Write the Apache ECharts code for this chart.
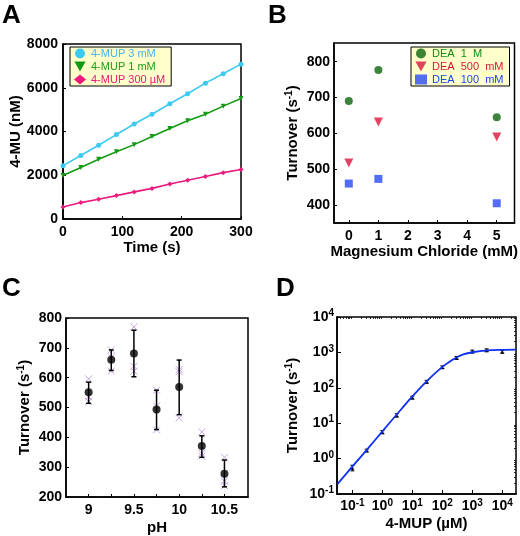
<!DOCTYPE html>
<html><head><meta charset="utf-8">
<script src="https://cdn.jsdelivr.net/npm/echarts@6/dist/echarts.min.js"></script>
<style>html,body{margin:0;padding:0;background:#fff}#c{width:520px;height:536px}</style>
</head><body><div id="c"></div>
<script>
// ---------- Panel A ----------
const timeS = [0, 30, 60, 90, 120, 150, 180, 210, 240, 270, 300];
const mup3mM = [2440, 2900, 3370, 3860, 4340, 4790, 5270, 5725, 6210, 6640, 7080];
const mup1mM = [1985, 2350, 2730, 3070, 3400, 3770, 4140, 4490, 4790, 5160, 5510];
const mup300uM = [550, 750, 900, 1070, 1240, 1400, 1600, 1770, 1940, 2120, 2260];
// ---------- Panel B ----------
const mgCl = [0, 1, 5];
const dea1M = [690, 777, 645];
const dea500mM = [517, 632, 590];
const dea100mM = [460, 473, 405];
const mgTicks = [0, 1, 2, 3, 4, 5];
const turnTicksB = [400, 500, 600, 700, 800];
// ---------- Panel C ----------
const pH = [9, 9.25, 9.5, 9.75, 10, 10.25, 10.5];
const meanC = [551, 660, 681, 493, 569, 371, 278];
const loC = [514, 624, 603, 426, 476, 333, 234];
const hiC = [585, 693, 759, 558, 659, 405, 324];
const repC = [[596, 536, 520], [693, 668, 622], [770, 638, 622], [558, 505, 425], [627, 620, 465], [418, 346, 337], [333, 253, 238]];
const pHTicks = [9, 9.25, 9.5, 9.75, 10, 10.25, 10.5];
const pHLabels = [9, 9.5, 10, 10.5];
// ---------- Panel D ----------
const mupConc = [0.1, 0.3, 1, 3, 10, 30, 100, 300, 1000, 3000, 10000];
const turnD = [0.54, 1.7, 5.6, 16.5, 53, 148, 380, 700, 1055, 1150, 1040];
const loD = [0.45, 1.55, 5.0, 15, 48, 135, 350, 640, 960, 1050, 950];
const hiD = [0.65, 1.85, 6.2, 18.5, 58, 162, 415, 770, 1160, 1260, 1140];
const fitX = [0.0316, 0.1, 0.316, 1, 3.16, 10, 31.6, 100, 200, 316, 500, 1000, 3162, 10000, 28700];
const fitY = [0.19, 0.6, 1.85, 5.9, 18.5, 57, 160, 390, 590, 740, 880, 1010, 1140, 1180, 1195];
const decades = [0.1, 1, 10, 100, 1000, 10000];
const decadeExp = ['-1', '0', '1', '2', '3', '4'];

const FONT = 'Liberation Sans, Arial, sans-serif';
const chart = echarts.init(document.getElementById('c'), null, {renderer: 'canvas'});

const minorX = [], minorY = [];
[0.01, 0.1, 1, 10, 100, 1000, 10000].forEach(d => {
  for (let k = 2; k <= 9; k++) { minorX.push(d * k); minorY.push(d * k); }
});

function supRich(size) {
  return {
    b: {fontSize: size, fontWeight: 'bold', fontFamily: FONT, color: '#000'},
    s: {fontSize: Math.round(size * 0.68), fontWeight: 'bold', fontFamily: FONT, color: '#000', padding: [0, 0, Math.round(size * 0.5), 0], verticalAlign: 'bottom'}
  };
}
const nameStyle = {fontSize: 15, fontWeight: 'bold', fontFamily: FONT, color: '#000', rich: supRich(15)};
const turnName = '{b|Turnover (s}{s|-1}{b|)}';
const labelStyle = {fontSize: 14, fontWeight: 'bold', fontFamily: FONT, color: '#000', formatter: v => String(v)};
const axLine = {show: true, onZero: false, lineStyle: {color: '#000', width: 1.5}};
const tickIn = {show: true, inside: true, length: 3, lineStyle: {color: '#000', width: 1}};

function errBar(capW, color, lw) {
  return function (params, api) {
    const x = api.value(0), lo = api.value(1), hi = api.value(2);
    const p1 = api.coord([x, lo]), p2 = api.coord([x, hi]);
    const st = {stroke: color, lineWidth: lw};
    return {type: 'group', children: [
      {type: 'line', shape: {x1: p1[0], y1: p1[1], x2: p2[0], y2: p2[1]}, style: st},
      {type: 'line', shape: {x1: p1[0] - capW, y1: p1[1], x2: p1[0] + capW, y2: p1[1]}, style: st},
      {type: 'line', shape: {x1: p2[0] - capW, y1: p2[1], x2: p2[0] + capW, y2: p2[1]}, style: st}
    ]};
  };
}
function crossMark(params, api) {
  const p = api.coord([api.value(0), api.value(1)]);
  const r = 3.5;
  const st = {stroke: '#c6a4e8', lineWidth: 1};
  return {type: 'group', children: [
    {type: 'line', shape: {x1: p[0] - r, y1: p[1] - r, x2: p[0] + r, y2: p[1] + r}, style: st},
    {type: 'line', shape: {x1: p[0] - r, y1: p[1] + r, x2: p[0] + r, y2: p[1] - r}, style: st}
  ]};
}
const triDown = 'path://M0,0L10,0L5,9Z';
const logFmt = v => '{b|10}{s|' + decadeExp[decades.indexOf(Math.round(v * 1e6) / 1e6)] + '}';

const option = {
  backgroundColor: '#fff',
  animation: false,
  textStyle: {fontFamily: FONT},
  graphic: [
    {type: 'text', left: 2, top: 3, style: {text: 'A', font: 'bold 26px ' + FONT, fill: '#000'}},
    {type: 'text', left: 268, top: 3, style: {text: 'B', font: 'bold 26px ' + FONT, fill: '#000'}},
    {type: 'text', left: 2, top: 276, style: {text: 'C', font: 'bold 26px ' + FONT, fill: '#000'}},
    {type: 'text', left: 276, top: 276, style: {text: 'D', font: 'bold 26px ' + FONT, fill: '#000'}}
  ],
  grid: [
    {left: 63, top: 44, width: 178, height: 175, show: true, borderColor: '#000', borderWidth: 1.5, backgroundColor: 'transparent'},
    {left: 334, top: 43, width: 183, height: 180, show: true, borderColor: '#000', borderWidth: 1.5, backgroundColor: 'transparent'},
    {left: 66, top: 318, width: 182, height: 181, show: true, borderColor: '#000', borderWidth: 1.5, backgroundColor: 'transparent'},
    {left: 337, top: 317, width: 179, height: 177, show: true, borderColor: '#000', borderWidth: 1.5, backgroundColor: 'transparent'}
  ],
  legend: [
    {
      left: 70, top: 47, orient: 'vertical', itemGap: 2, itemWidth: 12, itemHeight: 10,
      padding: [1, 6, 1, 4], backgroundColor: '#ffffcc', borderColor: '#000', borderWidth: 1, borderRadius: 0,
      textStyle: {fontSize: 11, fontFamily: FONT},
      data: [
        {name: '4-MUP 3 mM', icon: 'circle', textStyle: {color: '#4fb0ee'}},
        {name: '4-MUP 1 mM', icon: triDown, textStyle: {color: '#1aa01a'}},
        {name: '4-MUP 300 µM', icon: 'diamond', textStyle: {color: '#e8197d'}}
      ]
    },
    {
      left: 411, top: 47, orient: 'vertical', itemGap: 2, itemWidth: 12, itemHeight: 10,
      padding: [1, 6, 1, 4], backgroundColor: '#ffffcc', borderColor: '#000', borderWidth: 1, borderRadius: 0,
      textStyle: {fontSize: 11, fontFamily: FONT},
      data: [
        {name: 'DEA  1  M', icon: 'circle', textStyle: {color: '#128a12'}},
        {name: 'DEA  500  mM', icon: triDown, textStyle: {color: '#dc143c'}},
        {name: 'DEA  100  mM', icon: 'rect', textStyle: {color: '#2046ee'}}
      ]
    }
  ],
  xAxis: [
    {gridIndex: 0, type: 'value', min: 0, max: 300, interval: 100, name: 'Time (s)', nameLocation: 'middle', nameGap: 21,
      nameTextStyle: nameStyle, axisLine: axLine, axisTick: tickIn, splitLine: {show: false},
      axisLabel: Object.assign({margin: 6}, labelStyle)},
    {gridIndex: 1, type: 'value', min: -0.5, max: 5.6, name: 'Magnesium Chloride (mM)', nameLocation: 'middle', nameGap: 17,
      nameTextStyle: nameStyle, axisLine: axLine, splitLine: {show: false},
      axisTick: Object.assign({customValues: mgTicks}, tickIn),
      axisLabel: Object.assign({margin: 6, customValues: mgTicks}, labelStyle)},
    {gridIndex: 2, type: 'value', min: 8.75, max: 10.76, name: 'pH', nameLocation: 'middle', nameGap: 23,
      nameTextStyle: nameStyle, axisLine: axLine, splitLine: {show: false},
      axisTick: Object.assign({customValues: pHTicks}, tickIn),
      axisLabel: Object.assign({margin: 6, customValues: pHLabels}, labelStyle)},
    {gridIndex: 3, type: 'log', logBase: 10, min: 0.0306, max: 28700, name: '4-MUP (µM)', nameLocation: 'middle', nameGap: 22,
      nameTextStyle: nameStyle, axisLine: axLine, splitLine: {show: false},
      axisTick: Object.assign({customValues: decades}, tickIn, {length: 4}),
      axisLabel: {margin: 4, customValues: decades, rich: supRich(14), formatter: logFmt}},
    {gridIndex: 3, type: 'log', logBase: 10, min: 0.0306, max: 28700, show: true, axisLine: {show: false},
      splitLine: {show: false}, axisLabel: {show: false},
      axisTick: {show: true, inside: true, length: 2, customValues: minorX, lineStyle: {color: '#000', width: 0.8}}}
  ],
  yAxis: [
    {gridIndex: 0, type: 'value', min: 0, max: 8000, interval: 2000, name: '4-MU (nM)', nameLocation: 'middle', nameGap: 38,
      nameTextStyle: nameStyle, axisLine: axLine, axisTick: tickIn, splitLine: {show: false},
      axisLabel: Object.assign({margin: 5}, labelStyle)},
    {gridIndex: 1, type: 'value', min: 350, max: 852, name: turnName, nameLocation: 'middle', nameGap: 32,
      nameTextStyle: nameStyle, axisLine: axLine, splitLine: {show: false},
      axisTick: Object.assign({customValues: turnTicksB}, tickIn),
      axisLabel: Object.assign({margin: 4, customValues: turnTicksB}, labelStyle)},
    {gridIndex: 2, type: 'value', min: 200, max: 800, interval: 100, name: turnName, nameLocation: 'middle', nameGap: 32,
      nameTextStyle: nameStyle, axisLine: axLine, axisTick: tickIn, splitLine: {show: false},
      axisLabel: Object.assign({margin: 4}, labelStyle)},
    {gridIndex: 3, type: 'log', logBase: 10, min: 0.1, max: 10000, name: turnName, nameLocation: 'middle', nameGap: 35,
      nameTextStyle: nameStyle, axisLine: axLine, splitLine: {show: false},
      axisTick: Object.assign({customValues: decades}, tickIn, {length: 4}),
      axisLabel: {margin: 3, customValues: decades, rich: supRich(14), formatter: logFmt}},
    {gridIndex: 3, type: 'log', logBase: 10, min: 0.1, max: 10000, show: true, axisLine: {show: false},
      splitLine: {show: false}, axisLabel: {show: false},
      axisTick: {show: true, inside: true, length: 2, customValues: minorY.filter(v => v > 0.1 && v < 10000), lineStyle: {color: '#000', width: 0.8}}}
  ],
  series: [
    // Panel A
    {name: '4-MUP 3 mM', type: 'line', xAxisIndex: 0, yAxisIndex: 0, data: timeS.map((t, i) => [t, mup3mM[i]]),
      symbol: 'circle', symbolSize: 5, lineStyle: {color: '#3ccaf0', width: 1.6}, itemStyle: {color: '#3ccaf0'}},
    {name: '4-MUP 1 mM', type: 'line', xAxisIndex: 0, yAxisIndex: 0, data: timeS.map((t, i) => [t, mup1mM[i]]),
      symbol: 'triangle', symbolRotate: 180, symbolSize: 5, lineStyle: {color: '#139a13', width: 1.6}, itemStyle: {color: '#139a13'}},
    {name: '4-MUP 300 µM', type: 'line', xAxisIndex: 0, yAxisIndex: 0, data: timeS.map((t, i) => [t, mup300uM[i]]),
      symbol: 'diamond', symbolSize: 5, lineStyle: {color: '#ec1a7c', width: 1.6}, itemStyle: {color: '#ec1a7c'}},
    // Panel B
    {name: 'DEA  1  M', type: 'scatter', xAxisIndex: 1, yAxisIndex: 1, data: mgCl.map((x, i) => [x, dea1M[i]]),
      symbol: 'circle', symbolSize: 8, itemStyle: {color: '#0b650b'}},
    {name: 'DEA  500  mM', type: 'scatter', xAxisIndex: 1, yAxisIndex: 1, data: mgCl.map((x, i) => [x, dea500mM[i]]),
      symbol: 'triangle', symbolRotate: 180, symbolSize: 9, itemStyle: {color: '#dc143c'}},
    {name: 'DEA  100  mM', type: 'scatter', xAxisIndex: 1, yAxisIndex: 1, data: mgCl.map((x, i) => [x, dea100mM[i]]),
      symbol: 'rect', symbolSize: 8, itemStyle: {color: '#2848f4'}},
    // Panel C
    {type: 'custom', xAxisIndex: 2, yAxisIndex: 2, renderItem: crossMark,
      data: [].concat(...pH.map((x, i) => repC[i].map(v => [x, v]))), encode: {x: 0, y: 1}},
    {type: 'custom', xAxisIndex: 2, yAxisIndex: 2, renderItem: errBar(2.5, '#000', 1.5),
      data: pH.map((x, i) => [x, loC[i], hiC[i]]), encode: {x: 0, y: [1, 2]}},
    {type: 'scatter', xAxisIndex: 2, yAxisIndex: 2, data: pH.map((x, i) => [x, meanC[i]]),
      symbol: 'circle', symbolSize: 8, itemStyle: {color: '#000'}},
    // Panel D
    {type: 'line', xAxisIndex: 3, yAxisIndex: 3, data: fitX.map((x, i) => [x, fitY[i]]), smooth: 0.3,
      symbol: 'none', lineStyle: {color: '#1030f0', width: 1.8}},
    {type: 'custom', xAxisIndex: 3, yAxisIndex: 3, renderItem: errBar(2, '#000', 1),
      data: mupConc.map((x, i) => [x, loD[i], hiD[i]]), encode: {x: 0, y: [1, 2]}},
    {type: 'scatter', xAxisIndex: 3, yAxisIndex: 3, data: mupConc.map((x, i) => [x, turnD[i]]),
      symbol: 'triangle', symbolSize: 4, itemStyle: {color: '#000'}}
  ]
};
chart.setOption(option);
</script>
</body></html>
